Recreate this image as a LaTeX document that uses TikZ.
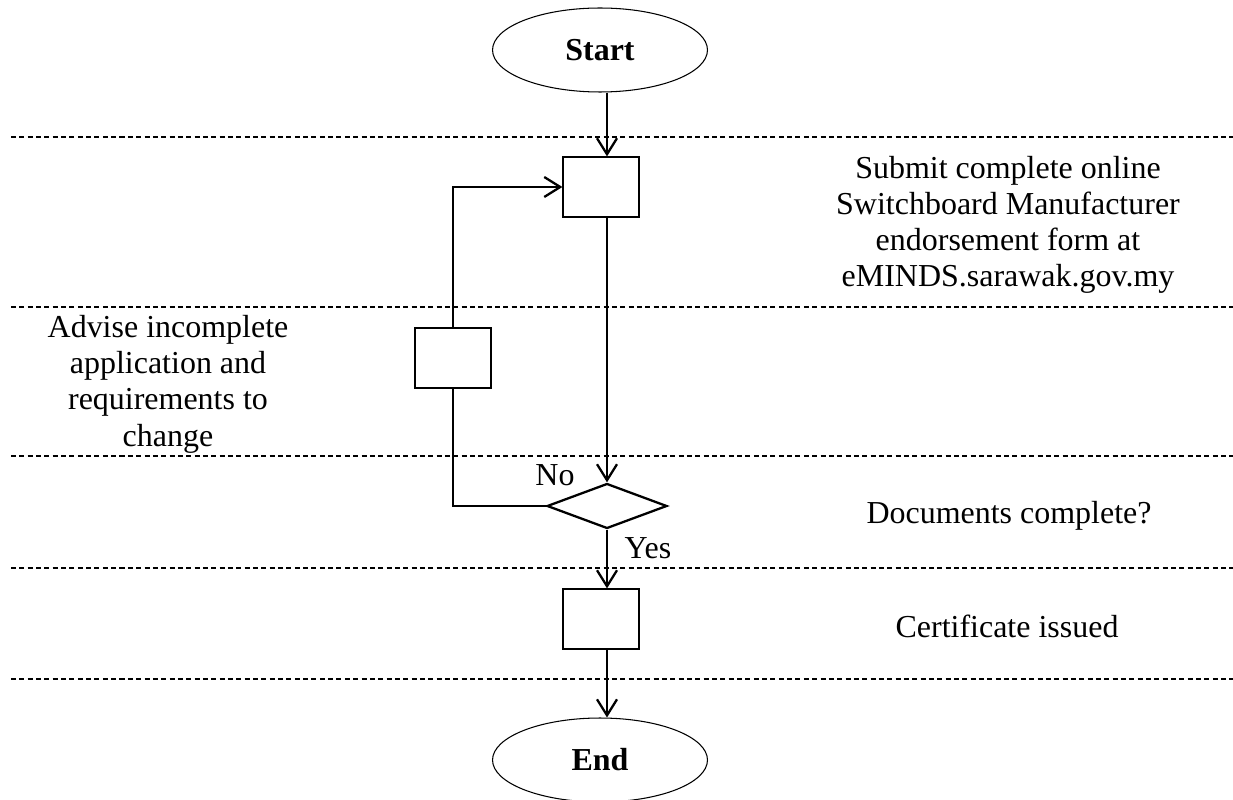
\documentclass[tikz,border=0pt]{standalone}
\usepackage{fontspec}
\setmainfont{Liberation Serif}
\usetikzlibrary{shapes.geometric,arrows.meta}

\tikzset{
  box/.style={draw, line width=0.7pt, minimum width=1.52cm, minimum height=1.2cm, inner sep=0pt},
  term/.style={draw, ellipse, line width=0.6pt, minimum width=4.3cm, minimum height=1.68cm,
    font={\fontsize{18.2}{20.5}\selectfont\bfseries}},
  decide/.style={draw, diamond, line width=1.3pt, minimum width=2.4cm, minimum height=0.9cm, inner sep=0pt},
  flow/.style={line width=1.3pt, -{Straight Barb[length=0.32cm, width=0.4cm]}},
  lane/.style={line width=1.5pt, dash pattern=on 2.85pt off 1.9pt},
  note/.style={align=center, inner sep=0pt, font={\fontsize{18.2}{20.5}\selectfont}}
}

\begin{document}
\begin{tikzpicture}[x=0.02cm, y=-0.02cm]
  \useasboundingbox (0,0) rectangle (1233,800);

  % swim lanes
  \foreach \y in {137,307,456,568,679}
    \draw[lane] (11,\y) -- (1233,\y);

  % flow chart
  \node[term] (start) at (600,50) {Start};
  \node[box] (submit) at (601,187) {};
  \node[box] (advise) at (453,358) {};
  \node[decide] (check) at (607,506) {};
  \node[box] (issue) at (601,619) {};
  \node[term] (end) at (600,760) {End};

  \draw[flow] (start.south -| check.north) -- (submit.north -| check.north);
  \draw[flow] (submit.south -| check.north) -- (check.north);
  \draw[flow] (check.south) -- (issue.north -| check.south);
  \draw[flow] (issue.south -| check.south) -- (end.north -| check.south);
  \draw[line width=1.3pt] (check.west) -| (advise.south);
  \draw[flow] (advise.north) |- (submit.west);

  \node[note, anchor=base] (no) at (555,485) {No};
  \node[note, anchor=base] (yes) at (648,558) {Yes};

  % descriptions (base = last line)
  \node[note, anchor=base] (submittxt) at (1008,287)
    {Submit complete online\\Switchboard Manufacturer\\endorsement form at\\eMINDS.sarawak.gov.my};
  \node[note, anchor=base] (advisetxt) at (168,446)
    {Advise incomplete\\application and\\requirements to\\change};
  \node[note, anchor=base] (checktxt) at (1009,523) {Documents complete?};
  \node[note, anchor=base] (issuetxt) at (1007,637) {Certificate issued};
\end{tikzpicture}
\end{document}
